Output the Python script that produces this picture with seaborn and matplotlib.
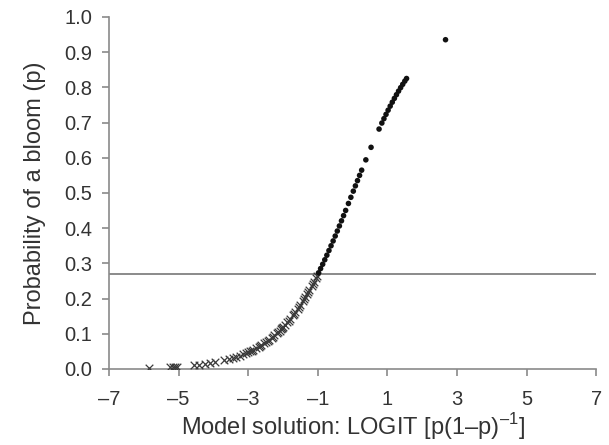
import matplotlib
matplotlib.use("Agg")
import matplotlib.pyplot as plt
import seaborn as sns
import pandas as pd

# Observations below the bloom threshold (model logit, fitted probability)
below_x = [-5.85, -5.25, -5.15, -5.10, -5.05, -4.55, -4.40, -4.25, -4.10, -3.95,
           -3.70, -3.55, -3.45, -3.35, -3.25, -3.15, -3.05, -2.95, -2.85, -2.78,
           -2.70, -2.62, -2.55, -2.48, -2.40, -2.33, -2.25, -2.18, -2.10, -2.06,
           -2.04, -2.02, -1.95, -1.88, -1.80, -1.72, -1.65, -1.58, -1.50, -1.43,
           -1.36, -1.30, -1.24, -1.18, -1.12, -1.06, -1.02,
           -3.00, -2.90, -2.66, -2.44, -2.29, -2.14, -1.99, -1.84, -1.69, -1.54,
           -1.40, -1.27, -1.15]
below_p = [0.0029, 0.0052, 0.0058, 0.0061, 0.0064, 0.0105, 0.0121, 0.0141, 0.0163, 0.0189,
           0.0241, 0.0279, 0.0308, 0.0339, 0.0373, 0.0411, 0.0452, 0.0497, 0.0547, 0.0584,
           0.0630, 0.0678, 0.0724, 0.0773, 0.0832, 0.0887, 0.0954, 0.1016, 0.1091, 0.1130,
           0.1151, 0.1171, 0.1245, 0.1324, 0.1418, 0.1519, 0.1611, 0.1708, 0.1824, 0.1931,
           0.2042, 0.2142, 0.2244, 0.2351, 0.2460, 0.2573, 0.2650,
           0.0474, 0.0522, 0.0653, 0.0802, 0.0920, 0.1053, 0.1203, 0.1371, 0.1558, 0.1765,
           0.1979, 0.2193, 0.2405]

# Observations above the bloom threshold
above_x = [-0.98, -0.92, -0.86, -0.80, -0.74, -0.68, -0.62, -0.56, -0.50, -0.44,
           -0.38, -0.32, -0.26, -0.20, -0.12, -0.05, 0.02, 0.08, 0.14, 0.20,
           0.26, 0.38, 0.53, 0.76, 0.84, 0.90, 0.96, 1.02, 1.08, 1.14,
           1.20, 1.26, 1.32, 1.38, 1.44, 1.50, 1.55, 2.67]
above_p = [0.2729, 0.2850, 0.2973, 0.3100, 0.3230, 0.3363, 0.3498, 0.3635, 0.3775, 0.3917,
           0.4061, 0.4207, 0.4354, 0.4502, 0.4700, 0.4875, 0.5050, 0.5200, 0.5349, 0.5498,
           0.5646, 0.5939, 0.6295, 0.6814, 0.6985, 0.7109, 0.7231, 0.7350, 0.7465, 0.7577,
           0.7685, 0.7790, 0.7892, 0.7990, 0.8085, 0.8176, 0.8250, 0.9352]

threshold = 0.27
x_ticks = [-7, -5, -3, -1, 1, 3, 5, 7]
y_ticks = [0.0, 0.1, 0.2, 0.3, 0.4, 0.5, 0.6, 0.7, 0.8, 0.9, 1.0]

sns.set_style("ticks")
plt.rcParams["font.family"] = ["Liberation Sans", "DejaVu Sans"]
plt.rcParams["mathtext.fontset"] = "custom"
plt.rcParams["mathtext.rm"] = "Liberation Sans"

text_col = "#333333"
axis_col = "#8a8a8a"

fig = plt.figure(figsize=(6.09, 4.45), dpi=100)
ax = fig.add_axes([0.179, 0.171, 0.800, 0.791])

below = pd.DataFrame({"x": below_x, "p": below_p})
above = pd.DataFrame({"x": above_x, "p": above_p})

ax.axhline(threshold, color=axis_col, lw=1.4, zorder=1)
sns.scatterplot(data=below, x="x", y="p", ax=ax, marker="x", s=30,
                color="#3a3a3a", linewidth=0.9, zorder=3)
sns.scatterplot(data=above, x="x", y="p", ax=ax, marker="o", s=16,
                color="#111111", edgecolor="none", zorder=3)

ax.set_xlim(-7, 7)
ax.set_ylim(0, 1.0)
ax.set_xticks(x_ticks)
ax.set_yticks(y_ticks)
ax.set_xticklabels([f"{t}".replace("-", "\u2013") for t in x_ticks])
ax.set_yticklabels([f"{t:.1f}" for t in y_ticks])

ax.set_xlabel("Model solution: LOGIT [p(1\u2013p)$^{\\mathregular{\u20131}}$]",
              fontsize=17, color=text_col, labelpad=2)
ax.set_ylabel("Probability of a bloom (p)", fontsize=17, color=text_col, labelpad=13)

for side in ["top", "right"]:
    ax.spines[side].set_visible(False)
for side in ["left", "bottom"]:
    ax.spines[side].set_color(axis_col)
    ax.spines[side].set_linewidth(1.2)
ax.tick_params(axis="both", colors=axis_col, labelcolor=text_col,
               labelsize=14.5, length=5, width=1.2)
ax.tick_params(axis="x", pad=10)
ax.tick_params(axis="y", pad=7)

fig.savefig("out.png", dpi=100)
